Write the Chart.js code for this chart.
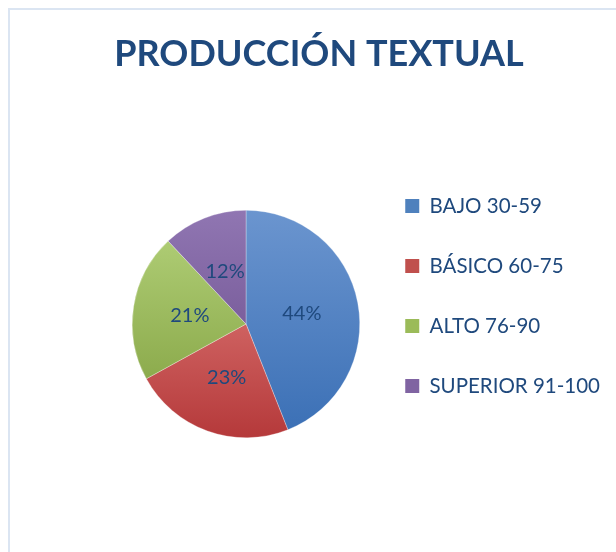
<!DOCTYPE html>
<html lang="es">
<head>
    <meta charset="UTF-8">
    <title>Producción textual</title>
    <script src="https://cdn.jsdelivr.net/npm/chart.js"></script>
    <style>
        body {
            margin: 0;
            background: #fff;
            overflow: hidden;
        }

        /* light frame of the chart box, cut off at the right and bottom */
        .frame {
            position: absolute;
            left: 8px;
            top: 8px;
            width: 700px;
            height: 600px;
            border-left: 2px solid #dbe5f2;
            border-top: 2px solid #dbe5f2;
        }

        #chart {
            position: absolute;
            left: 0;
            top: 0;
        }
    </style>
</head>
<body>
    <div class="frame"></div>
    <canvas id="chart" width="616" height="552"></canvas>

    <script>
        // Data
        const levels = ['BAJO 30-59', 'BÁSICO 60-75', 'ALTO 76-90', 'SUPERIOR 91-100'];
        const percents = [44, 23, 21, 12];

        // Colours (Excel style, light at the top, dark at the bottom)
        const lightColors = ['#6b95cf', '#e88a87', '#b5d37c', '#9076b2'];
        const darkColors = ['#3a6fb5', '#b5393a', '#7e9d3c', '#664888'];
        const legendColors = ['#4f81bd', '#c0504d', '#9bbb59', '#8064a2'];
        const textColor = '#1f497d';

        // Where the pie sits inside the frame
        const pieArea = { left: 132, top: 210, right: 360, bottom: 438 };

        const placePie = {
            id: 'placePie',
            afterLayout(chart) {
                Object.assign(chart.chartArea, pieArea, {
                    width: pieArea.right - pieArea.left,
                    height: pieArea.bottom - pieArea.top
                });
            }
        };

        // Percent labels in the middle of each slice
        const percentLabels = {
            id: 'percentLabels',
            afterDatasetsDraw(chart) {
                const ctx = chart.ctx;
                const meta = chart.getDatasetMeta(0);
                ctx.save();
                ctx.font = '20px Lato';
                ctx.fillStyle = textColor;
                ctx.textAlign = 'center';
                ctx.textBaseline = 'middle';
                meta.data.forEach((arc, i) => {
                    const p = arc.tooltipPosition();
                    ctx.fillText(percents[i] + '%', p.x, p.y);
                });
                ctx.restore();
            }
        };

        function sliceFill(context) {
            const i = context.dataIndex;
            const area = context.chart.chartArea;
            if (!area) return legendColors[i];
            const g = context.chart.ctx.createLinearGradient(0, area.top, 0, area.bottom);
            g.addColorStop(0, lightColors[i]);
            g.addColorStop(1, darkColors[i]);
            return g;
        }

        new Chart(document.getElementById('chart'), {
            type: 'pie',
            data: {
                labels: levels,
                datasets: [{
                    data: percents,
                    backgroundColor: sliceFill,
                    borderColor: 'rgba(255, 255, 255, 0.6)',
                    borderWidth: 0.5
                }]
            },
            options: {
                responsive: false,
                animation: false,
                events: [],
                layout: {
                    padding: { left: 28, right: 6, top: 0, bottom: 60 }
                },
                plugins: {
                    title: {
                        display: true,
                        text: 'PRODUCCIÓN TEXTUAL',
                        color: textColor,
                        font: { family: 'Lato', size: 36, weight: 'bold' },
                        padding: { top: 33, bottom: 24 }
                    },
                    legend: {
                        position: 'right',
                        fullSize: false,
                        labels: {
                            color: textColor,
                            font: { family: 'Lato', size: 20.5 },
                            boxWidth: 14,
                            boxHeight: 14,
                            padding: 39.5,
                            generateLabels(chart) {
                                const items = Chart.overrides.pie.plugins.legend.labels.generateLabels(chart);
                                items.forEach((item, i) => {
                                    item.fillStyle = legendColors[i];
                                    item.strokeStyle = legendColors[i];
                                    item.lineWidth = 0;
                                });
                                return items;
                            }
                        }
                    },
                    tooltip: { enabled: false }
                }
            },
            plugins: [placePie, percentLabels]
        });
    </script>
</body>
</html>
